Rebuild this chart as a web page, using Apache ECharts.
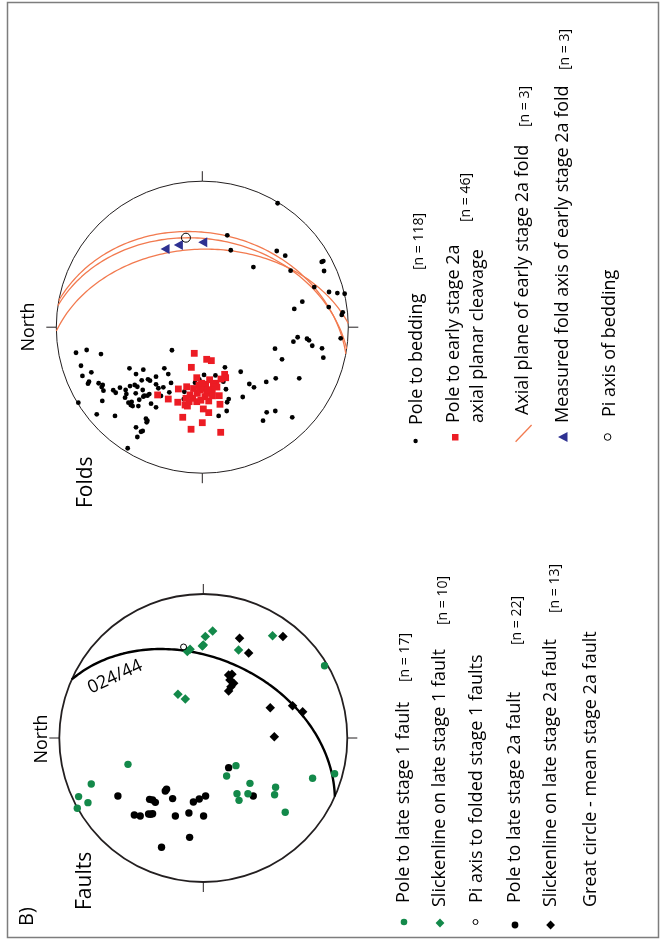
<!DOCTYPE html>
<html>
<head>
<meta charset="utf-8">
<script src="https://cdn.jsdelivr.net/npm/echarts@6/dist/echarts.min.js"></script>
<style>
html,body{margin:0;padding:0;background:#fff;}
#chart{width:661px;height:941px;}
</style>
</head>
<body>
<div id="chart"></div>
<script>
// ---- DATA (equal-area net coordinates as plotted; figure is rotated, North to the left) ----
// Folds net
const foldBeddingPoles = [
 [0.516,0.849],[0.171,0.629],[0.195,0.527],[0.35,0.412],[0.51,0.522],[0.568,0.49],[0.605,0.387],[0.829,0.453],[0.818,0.447],[0.834,0.385],
 [0.767,0.275],[0.868,0.241],[0.925,0.234],[0.975,0.229],[0.685,0.175],[0.63,0.125],[0.866,0.138],[0.962,0.102],[0.955,0.084],
 [0.948,-0.076],[0.653,-0.069],[0.624,-0.099],[0.717,-0.079],[0.731,-0.09],[0.753,-0.127],[0.82,-0.145],[0.829,-0.209],
 [0.498,-0.147],[0.546,-0.22],[0.263,-0.305],[0.503,-0.35],[0.664,-0.35],[0.438,-0.375],[0.322,-0.389],[0.354,-0.412],[0.277,-0.478],
 [0.5,-0.574],[0.441,-0.583],[0.416,-0.64],[0.616,-0.617],
 [0.155,-0.275],[0.135,-0.355],[0.144,-0.373],[0.162,-0.425],[0.181,-0.492],[0.17,-0.514],[0.167,-0.574],[0.112,-0.608],[0.012,-0.327],[-0.021,-0.357],
 [-0.865,-0.175],[-0.792,-0.156],[-0.694,-0.184],[-0.831,-0.264],[-0.821,-0.334],[-0.76,-0.309],[-0.776,-0.373],[-0.783,-0.387],[-0.71,-0.384],
 [-0.682,-0.396],[-0.689,-0.41],[-0.677,-0.435],[-0.685,-0.505],[-0.849,-0.517],[-0.723,-0.597],[-0.598,-0.608],[-0.511,-0.829],
 [-0.499,-0.282],[-0.404,-0.291],[-0.454,-0.321],[-0.415,-0.364],[-0.372,-0.357],[-0.358,-0.366],[-0.317,-0.339],[-0.26,-0.282],[-0.233,-0.321],
 [-0.208,-0.158],[-0.495,-0.403],[-0.463,-0.396],[-0.445,-0.408],[-0.564,-0.414],[-0.61,-0.432],[-0.593,-0.449],[-0.525,-0.43],[-0.52,-0.458],
 [-0.529,-0.483],[-0.456,-0.453],[-0.408,-0.43],[-0.397,-0.469],[-0.376,-0.469],[-0.404,-0.476],[-0.363,-0.458],[-0.317,-0.391],[-0.301,-0.418],
 [-0.267,-0.412],[-0.226,-0.446],[-0.214,-0.382],[-0.299,-0.46],[-0.283,-0.471],[-0.432,-0.497],[-0.484,-0.512],[-0.506,-0.517],[-0.49,-0.533],
 [-0.477,-0.54],[-0.438,-0.54],[-0.351,-0.524],[-0.317,-0.549],[-0.386,-0.627],[-0.376,-0.64],[-0.381,-0.651],[-0.454,-0.686],[-0.408,-0.711],
 [-0.42,-0.716],[-0.445,-0.752],[-0.127,-0.492],[-0.123,-0.442],[-0.05,-0.38],[0.09,-0.33]
];
const foldCleavagePoles = [
 [-0.055,-0.179],[0.062,-0.229],[0.03,-0.22],[-0.075,-0.275],[-0.038,-0.346],[0.153,-0.323],[0.16,-0.346],[0.128,-0.355],[0.092,-0.384],[0.076,-0.396],
 [0.023,-0.391],[-0.023,-0.396],[-0.164,-0.423],[-0.107,-0.408],[-0.306,-0.464],[-0.233,-0.492],[-0.168,-0.514],[-0.118,-0.533],[-0.102,-0.54],[-0.084,-0.464],
 [-0.066,-0.487],[-0.034,-0.453],[-0.016,-0.43],[0.007,-0.419],[0.018,-0.476],[0.03,-0.453],[-0.038,-0.51],[0.044,-0.505],[0.116,-0.469],[0.121,-0.528],
 [0.007,-0.56],[0.044,-0.585],[-0.134,-0.617],[0,-0.654],[-0.077,-0.699],[0.126,-0.72],[0.068,-0.43],[-0.004,-0.384],[-0.112,-0.487],[0.041,-0.43],
 [0.05,-0.36],[-0.06,-0.42],[0.1,-0.41],[-0.01,-0.5],[0.07,-0.47],[-0.09,-0.51]
];
const foldAxes = [[-0.255,0.536],[-0.164,0.563],[0.003,0.581]];
const foldPiAxis = [[-0.112,0.613]];
// axial planes: strike (right-hand rule, degrees), dip (degrees)
const foldAxialPlaneStrikes = [10.5, 8.5, 358.5];
const foldAxialPlaneDips = [35.6, 39.3, 45.6];

// Faults net
const faultStage1Poles = [
 [0.842,0.502],[-0.523,-0.183],[-0.778,-0.319],[-0.866,-0.407],[-0.801,-0.449],[-0.875,-0.488],[0.227,-0.192],[0.162,-0.264],[0.324,-0.315],
 [0.234,-0.387],[0.248,-0.433],[0.31,-0.387],[0.502,-0.342],[0.495,-0.394],[0.569,-0.516],[0.759,-0.28],[0.912,-0.248]
];
const faultStage1Slick = [
 [0.065,0.743],[0.014,0.704],[-0.007,0.639],[-0.092,0.616],[-0.111,0.6],[0.245,0.611],[0.481,0.71],[-0.176,0.303],[-0.125,0.271],[0.0,0.645]
];
const faultStage1Pi = [[-0.137,0.632]];
const faultStage2aPoles = [
 [0.176,-0.206],[0.347,-0.403],[-0.593,-0.403],[-0.373,-0.426],[-0.352,-0.431],[-0.333,-0.447],[-0.255,-0.356],[-0.264,-0.368],[-0.213,-0.421],
 [-0.069,-0.444],[-0.028,-0.424],[0.016,-0.403],[-0.479,-0.535],[-0.438,-0.542],[-0.38,-0.528],[-0.352,-0.526],[-0.194,-0.542],[-0.1,-0.521],
 [0.002,-0.542],[-0.095,-0.69],[-0.29,-0.759],[-0.366,-0.53]
];
const faultStage2aSlick = [
 [0.252,0.692],[0.315,0.59],[0.553,0.704],[0.176,0.438],[0.199,0.442],[0.211,0.38],[0.192,0.356],[0.176,0.326],[0.465,0.21],[0.62,0.224],
 [0.69,0.183],[0.493,0.009],[0.185,0.403]
];
const faultMeanPlaneStrike = [24];
const faultMeanPlaneDip = [44];
const faultMeanPlaneLabel = ['024/44'];
const faultMeanPlaneLabelAt = [[-0.613,0.424]];

// ---- Equal-area (Schmidt) projection of a plane as a great circle ----
function greatCircle(strike, dip) {
  const s = strike*Math.PI/180, d = dip*Math.PI/180, dd = s + Math.PI/2;
  const sv = [Math.sin(s), Math.cos(s)];
  const dv = [Math.cos(d)*Math.sin(dd), Math.cos(d)*Math.cos(dd), Math.sin(d)];
  const pts = [];
  for (let a = 0; a <= 180; a += 1.5) {
    const r = a*Math.PI/180;
    const E = Math.cos(r)*sv[0] + Math.sin(r)*dv[0];
    const N = Math.cos(r)*sv[1] + Math.sin(r)*dv[1];
    const D = Math.sin(r)*dv[2];
    const pl = Math.asin(Math.max(-1, Math.min(1, D)));
    const h = Math.sqrt(E*E + N*N) || 1e-9;
    const rad = Math.SQRT2*Math.sin((Math.PI/2 - pl)/2);
    pts.push([-N/h*rad, E/h*rad]);   // North plotted to the left, East upward
  }
  return pts;
}

const INK = '#231f20', GREEN = '#13894a', RED = '#ec1c24', BLUE = '#2e3192', ORANGE = '#f27a4f';
const FONT = '"Open Sans", "Noto Sans", sans-serif';

function vText(x, y, text, size, align) {
  align = align || 'left';
  return {type:'text', x:x, y:y, rotation:Math.PI/2, silent:true,
    style:{text:text, fill:'#000', font:size+'px '+FONT, textAlign:align, align:align,
           textVerticalAlign:'middle', verticalAlign:'middle'}};
}

const chart = echarts.init(document.getElementById('chart'), null, {renderer:'canvas'});

const foldArcSeries = foldAxialPlaneStrikes.map((s, i) => ({
  type:'line', xAxisIndex:0, yAxisIndex:0, data:greatCircle(s, foldAxialPlaneDips[i]),
  showSymbol:false, symbol:'none', lineStyle:{color:ORANGE, width:1.3, opacity:1}, silent:true, z:2, animation:false
}));

function pts(data, symbol, size, color, z, extra) {
  return Object.assign({type:'scatter', data:data, symbol:symbol, symbolSize:size,
    itemStyle:{color:color, opacity:1}, z:z, silent:true}, extra || {});
}

const graphics = [
  {type:'rect', shape:{x:7.5, y:2.5, width:651, height:935}, style:{fill:'none', stroke:'#7d7d7d', lineWidth:1.5}, silent:true},
  // titles
  vText(27.5, 926, 'B)', 20),
  vText(85, 910, 'Faults', 21),
  vText(41.5, 739, 'North', 18, 'center'),
  vText(86.5, 508, 'Folds', 21),
  vText(29, 327, 'North', 18, 'center'),
  // Folds legend
  {type:'circle', shape:{cx:415.6, cy:441, r:2.2}, style:{fill:'#000'}},
  vText(416.5, 425, 'Pole to bedding', 18),
  vText(419.5, 270, '[n = 118]', 14),
  {type:'rect', shape:{x:452, y:434, width:6.5, height:6.5}, style:{fill:RED}},
  vText(453.5, 423, 'Pole to early stage 2a', 18),
  vText(478, 423, 'axial planar cleavage', 18),
  vText(466.5, 222, '[n = 46]', 14),
  {type:'line', shape:{x1:515.6, y1:441.7, x2:531.6, y2:425}, style:{stroke:ORANGE, lineWidth:1.3}},
  vText(523, 415, 'Axial plane of early stage 2a fold', 18),
  vText(525.5, 127, '[n = 3]', 14),
  {type:'polygon', shape:{points:[[558,437],[567.5,432],[567.5,442]]}, style:{fill:BLUE}},
  vText(563, 423, 'Measured fold axis of early stage 2a fold', 18),
  vText(565.5, 70, '[n = 3]', 14),
  {type:'circle', shape:{cx:607.6, cy:437, r:3.3}, style:{fill:'none', stroke:'#000', lineWidth:1}},
  vText(610, 417, 'Pi axis of bedding', 18),
  // Faults legend
  {type:'circle', shape:{cx:404, cy:922, r:3.3}, style:{fill:GREEN}},
  vText(404, 903, 'Pole to late stage 1 fault', 18),
  vText(405.5, 682, '[n = 17]', 14),
  {type:'polygon', shape:{points:[[440,918.6],[444.4,923],[440,927.4],[435.6,923]]}, style:{fill:GREEN}},
  vText(440, 907, 'Slickenline on late stage 1 fault', 18),
  vText(443, 625, '[n = 10]', 14),
  {type:'circle', shape:{cx:475.5, cy:922, r:2.5}, style:{fill:'none', stroke:'#000', lineWidth:1}},
  vText(477, 903, 'Pi axis to folded stage 1 faults', 18),
  {type:'circle', shape:{cx:515, cy:925, r:3.4}, style:{fill:'#000'}},
  vText(515, 903, 'Pole to late stage 2a fault', 18),
  vText(517.5, 645, '[n = 22]', 14),
  {type:'polygon', shape:{points:[[550.6,920.6],[555,925],[550.6,929.4],[546.2,925]]}, style:{fill:'#000'}},
  vText(550.5, 907, 'Slickenline on late stage 2a fault', 18),
  vText(555, 613, '[n = 13]', 14),
  vText(590.7, 907, 'Great circle - mean stage 2a fault', 18)
];

const option = {
  backgroundColor:'#ffffff',
  animation:false,
  grid:[
    {left:56.3, top:181.2, width:292, height:292, show:false},
    {left:59.3, top:594, width:288, height:288, show:false}
  ],
  xAxis:[
    {gridIndex:0, type:'value', min:-1, max:1, show:false},
    {gridIndex:1, type:'value', min:-1, max:1, show:false}
  ],
  yAxis:[
    {gridIndex:0, type:'value', min:-1, max:1, show:false},
    {gridIndex:1, type:'value', min:-1, max:1, show:false}
  ],
  polar:[
    {center:[202.3, 327.2], radius:146},
    {center:[203.3, 738], radius:144}
  ],
  angleAxis:[
    {polarIndex:0, type:'value', min:0, max:360, interval:90, startAngle:90,
     axisLine:{show:true, lineStyle:{color:INK, width:1}}, axisTick:{show:true, inside:false, length:10, lineStyle:{color:INK, width:1}},
     axisLabel:{show:false}, splitLine:{show:false}},
    {polarIndex:1, type:'value', min:0, max:360, interval:90, startAngle:90,
     axisLine:{show:true, lineStyle:{color:INK, width:1.8}}, axisTick:{show:true, inside:false, length:10, lineStyle:{color:INK, width:1}},
     axisLabel:{show:false}, splitLine:{show:false}}
  ],
  radiusAxis:[
    {polarIndex:0, min:0, max:1, show:false},
    {polarIndex:1, min:0, max:1, show:false}
  ],
  graphic:graphics,
  series:[
    ...foldArcSeries,
    pts(foldBeddingPoles, 'circle', 4.8, '#000', 3, {xAxisIndex:0, yAxisIndex:0}),
    pts(foldCleavagePoles, 'rect', 6.8, RED, 4, {xAxisIndex:0, yAxisIndex:0}),
    pts(foldAxes, 'triangle', [10,9], BLUE, 5, {xAxisIndex:0, yAxisIndex:0, symbolRotate:90}),
    {type:'scatter', xAxisIndex:0, yAxisIndex:0, data:foldPiAxis, symbol:'circle', symbolSize:9,
     itemStyle:{color:'rgba(0,0,0,0)', borderColor:'#000', borderWidth:1, opacity:1}, z:5, silent:true},

    {type:'line', xAxisIndex:1, yAxisIndex:1, data:greatCircle(faultMeanPlaneStrike[0], faultMeanPlaneDip[0]),
     showSymbol:false, symbol:'none', lineStyle:{color:'#000', width:2.4, opacity:1}, z:2, silent:true},
    pts(faultStage2aPoles, 'circle', 7.4, '#000', 3, {xAxisIndex:1, yAxisIndex:1}),
    pts(faultStage2aSlick, 'diamond', 9.5, '#000', 3, {xAxisIndex:1, yAxisIndex:1}),
    pts(faultStage1Poles, 'circle', 7.4, GREEN, 4, {xAxisIndex:1, yAxisIndex:1}),
    pts(faultStage1Slick, 'diamond', 9.5, GREEN, 4, {xAxisIndex:1, yAxisIndex:1}),
    {type:'scatter', xAxisIndex:1, yAxisIndex:1, data:faultStage1Pi, symbol:'circle', symbolSize:6,
     itemStyle:{color:'rgba(0,0,0,0)', borderColor:'#000', borderWidth:1, opacity:1}, z:5, silent:true},
    {type:'scatter', xAxisIndex:1, yAxisIndex:1, data:faultMeanPlaneLabelAt, symbolSize:1, itemStyle:{color:'rgba(0,0,0,0)'}, silent:true, z:6,
     label:{show:true, position:'inside', formatter:() => faultMeanPlaneLabel[0], rotate:25, color:'#000', opacity:1, fontSize:18, fontFamily:FONT}}
  ]
};
chart.setOption(option);
</script>
</body>
</html>
